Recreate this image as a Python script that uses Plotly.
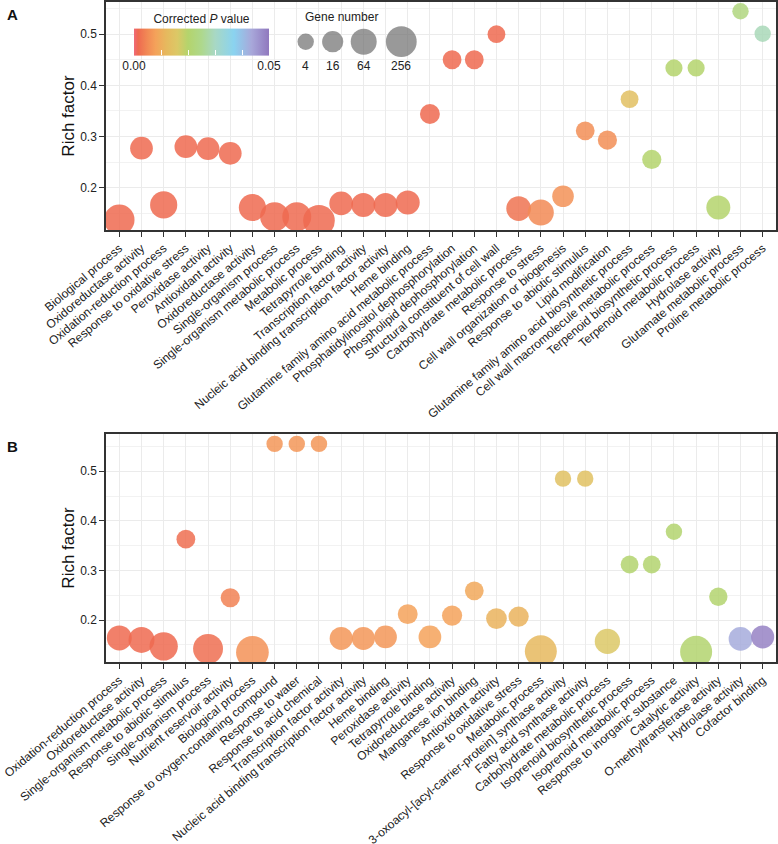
import numpy as np
import plotly.graph_objects as go

# ---------------- data ----------------
a_terms = ["Biological process", "Oxidoreductase activity", "Oxidation-reduction process",
           "Response to oxidative stress", "Peroxidase activity", "Antioxidant activity",
           "Oxidoreductase activity", "Single-organism process", "Single-organism metabolic process",
           "Metabolic process", "Tetrapyrrole binding", "Transcription factor activity",
           "Nucleic acid binding transcription factor activity", "Heme binding",
           "Glutamine family amino acid metabolic process", "Phosphatidylinositol dephosphorylation",
           "Phospholipid dephosphorylation", "Structural constituent of cell wall",
           "Carbohydrate metabolic process", "Response to stress", "Cell wall organization or biogenesis",
           "Response to abiotic stimulus", "Lipid modification",
           "Glutamine family amino acid biosynthetic process", "Cell wall macromolecule metabolic process",
           "Terpenoid biosynthetic process", "Terpenoid metabolic process", "Hydrolase activity",
           "Glutamate metabolic process", "Proline metabolic process"]
a_rich = [0.137, 0.277, 0.166, 0.280, 0.276, 0.267, 0.161, 0.143, 0.143, 0.135,
          0.169, 0.166, 0.166, 0.171, 0.344, 0.450, 0.450, 0.500, 0.159, 0.151,
          0.183, 0.311, 0.293, 0.373, 0.255, 0.434, 0.434, 0.161, 0.545, 0.501]
a_genes = [230, 25, 90, 25, 25, 25, 90, 150, 150, 330,
           33, 36, 36, 36, 11, 8, 8, 6, 44, 64,
           18, 8, 9, 6, 9, 5, 5, 36, 4, 4]
a_p = [0.0015] * 18 + [0.0025, 0.005, 0.006, 0.0055, 0.0055, 0.0135,
                       0.020, 0.020, 0.020, 0.020, 0.023, 0.029]

b_terms = ["Oxidation-reduction process", "Oxidoreductase activity", "Single-organism metabolic process",
           "Response to abiotic stimulus", "Single-organism process", "Nutrient reservoir activity",
           "Biological process", "Response to oxygen-containing compound", "Response to water",
           "Response to acid chemical", "Transcription factor activity",
           "Nucleic acid binding transcription factor activity", "Heme binding", "Peroxidase activity",
           "Tetrapyrrole binding", "Oxidoreductase activity", "Manganese ion binding",
           "Antioxidant activity", "Response to oxidative stress", "Metabolic process",
           "3-oxoacyl-[acyl-carrier-protein] synthase activity", "Fatty acid synthase activity",
           "Carbohydrate metabolic process", "Isoprenoid biosynthetic process",
           "Isoprenoid metabolic process", "Response to inorganic substance", "Catalytic activity",
           "O-methyltransferase activity", "Hydrolase activity", "Cofactor binding"]
b_rich = [0.164, 0.160, 0.147, 0.363, 0.142, 0.245, 0.135, 0.555, 0.555, 0.555,
          0.163, 0.163, 0.166, 0.212, 0.166, 0.209, 0.259, 0.203, 0.207, 0.137,
          0.485, 0.485, 0.157, 0.312, 0.312, 0.378, 0.136, 0.247, 0.162, 0.166]
b_genes = [48, 64, 125, 8, 200, 9, 440, 4, 4, 4,
           27, 27, 25, 11, 25, 12, 8, 14, 12, 360,
           4, 4, 52, 6, 6, 4, 360, 7, 33, 27]
b_p = [0.0015, 0.0015, 0.0015, 0.002, 0.002, 0.004, 0.006, 0.0065, 0.0065, 0.0065,
       0.0065, 0.0065, 0.0065, 0.008, 0.008, 0.008, 0.009, 0.011, 0.011, 0.012,
       0.014, 0.014, 0.016, 0.0205, 0.0205, 0.0205, 0.0205, 0.0205, 0.043, 0.0485]

legend_genes = [4, 16, 64, 256]
p_ticks = [0, 0.01, 0.02, 0.03, 0.04, 0.05]
p_ticktext = ["0.00", "", "", "", "", "0.05"]
y_ticks = [0.2, 0.3, 0.4, 0.5]

# ---------------- styling helpers ----------------
FONT = "Liberation Sans, Arial, Helvetica, sans-serif"
colorscale = [[0.0, "#F06A78"], [0.03, "#EE6A50"], [0.10, "#F28A55"], [0.16, "#F4A25A"],
              [0.24, "#E6B95E"], [0.32, "#DCC866"], [0.40, "#B4D46C"], [0.50, "#AED88C"],
              [0.60, "#A8D8C4"], [0.74, "#8AD3F0"], [0.87, "#A8A8DA"], [1.0, "#9078BE"]]


def size_of(n):
    return 11.6 + 2.4 * np.log2(np.asarray(n, dtype=float))


fig = go.Figure()
for terms, rich, genes, pv, xa, ya in [(a_terms, a_rich, a_genes, a_p, "x", "y"),
                                       (b_terms, b_rich, b_genes, b_p, "x2", "y2")]:
    fig.add_trace(go.Scatter(
        x=list(range(1, len(terms) + 1)), y=rich, mode="markers",
        text=terms, customdata=np.stack([genes, pv], axis=1),
        hovertemplate="%{text}<br>Rich factor %{y}<br>Genes %{customdata[0]}<br>P %{customdata[1]}<extra></extra>",
        marker=dict(size=size_of(genes), color=pv, coloraxis="coloraxis",
                    opacity=0.85, line=dict(width=0)),
        xaxis=xa, yaxis=ya, showlegend=False))

# gene-number legend circles (pixel-like helper axes)
leg_x = [305.7, 332.7, 363.7, 401.3]
fig.add_trace(go.Scatter(
    x=leg_x, y=[41.7] * 4, mode="markers",
    marker=dict(size=size_of(legend_genes), color="#6E6E6E", line=dict(width=0)),
    xaxis="x3", yaxis="y3", showlegend=False, hoverinfo="skip"))

PLOT_TOP = 2
PLOT_BOT = 662
H = PLOT_BOT - PLOT_TOP


def yfrac(py):
    return (PLOT_BOT - py) / H


axis_common = dict(showline=True, mirror=True, linecolor="#333333", linewidth=1.5,
                   ticks="outside", ticklen=5, tickwidth=1.2, tickcolor="#333333",
                   showgrid=True, gridcolor="#EBEBEB", gridwidth=1, zeroline=False,
                   automargin=False,
                   tickfont=dict(family=FONT, size=12, color="#222222"))

xa = dict(axis_common, range=[0.4, 30.6], tickmode="array",
          tickvals=list(range(1, 31)), tickangle=-40)
ya = dict(axis_common, tickmode="array", tickvals=y_ticks,
          ticktext=[f"{v:.1f}" for v in y_ticks],
          minor=dict(dtick=0.05, showgrid=True, gridcolor="#F2F2F2", gridwidth=0.7, ticks=""),
          title=dict(text="Rich factor", font=dict(family=FONT, size=17, color="#111111"),
                     standoff=1))

fig.update_layout(
    width=778, height=844,
    margin=dict(l=106, r=2, t=PLOT_TOP, b=844 - PLOT_BOT, autoexpand=False),
    paper_bgcolor="white", plot_bgcolor="rgba(0,0,0,0)",
    font=dict(family=FONT, color="#222222"),
    xaxis=dict(xa, ticktext=a_terms, anchor="y", domain=[0, 1]),
    yaxis=dict(ya, range=[0.117, 0.563], anchor="x", domain=[yfrac(230), 1]),
    xaxis2=dict(xa, ticktext=b_terms, anchor="y2", domain=[0, 1]),
    yaxis2=dict(ya, range=[0.1155, 0.575], anchor="x2", domain=[0, yfrac(434)]),
    xaxis3=dict(range=[106, 776], domain=[0, 1], anchor="y3", visible=False, fixedrange=True),
    yaxis3=dict(range=[230, 2], domain=[yfrac(230), 1], anchor="x3", visible=False, fixedrange=True),
    coloraxis=dict(
        cmin=0, cmax=0.05, colorscale=colorscale,
        colorbar=dict(
            orientation="h", x=(201.5 - 106) / 670, xanchor="center",
            y=yfrac(79), yanchor="bottom",
            lenmode="pixels", len=135, thickness=27,
            title=dict(text="Corrected <i>P</i> value", side="top",
                       font=dict(family=FONT, size=12, color="#222222")),
            tickmode="array", tickvals=p_ticks, ticktext=p_ticktext,
            ticks="inside", ticklen=5, tickcolor="white", tickwidth=1,
            tickfont=dict(family=FONT, size=12, color="#222222"),
            outlinewidth=0, xpad=0, ypad=0)),
)

annos = [dict(text="Gene number", x=341, y=17),
         dict(text="4", x=leg_x[0], y=66), dict(text="16", x=leg_x[1], y=66),
         dict(text="64", x=leg_x[2], y=66), dict(text="256", x=leg_x[3], y=66)]
for a in annos:
    fig.add_annotation(text=a["text"], x=a["x"], y=a["y"], xref="x3", yref="y3",
                       showarrow=False, font=dict(family=FONT, size=12, color="#222222"),
                       xanchor="center", yanchor="middle")

for lab, py in [("A", 14), ("B", 446)]:
    fig.add_annotation(text=f"<b>{lab}</b>", x=(12 - 106) / 670, y=yfrac(py),
                       xref="paper", yref="paper", showarrow=False,
                       font=dict(family=FONT, size=15, color="#111111"),
                       xanchor="center", yanchor="middle")

fig.write_html("out.html", config={"displayModeBar": False},
               post_script="document.body.style.margin='0px';document.body.style.overflow='hidden';")
